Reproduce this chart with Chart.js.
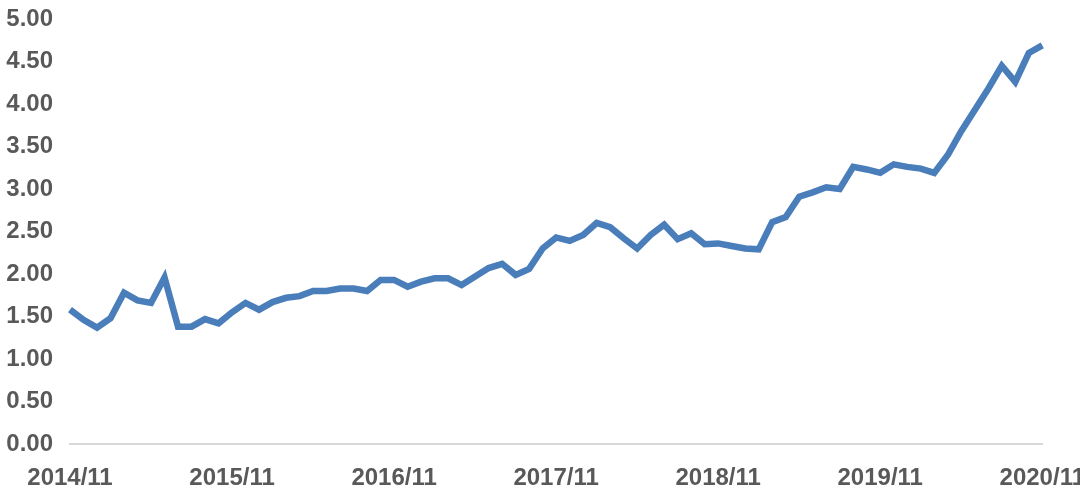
<!DOCTYPE html>
<html>
<head>
<meta charset="utf-8">
<script src="https://cdn.jsdelivr.net/npm/chart.js@4/dist/chart.umd.min.js"></script>
<style>
  html, body { margin: 0; padding: 0; background: #fff; overflow: hidden; }
  #wrap { width: 1105px; height: 496px; }
</style>
</head>
<body>
<div id="wrap"><canvas id="chartOne"></canvas></div>
<script>
// months 2014/11 .. 2020/11
const labels = [];
for (let y = 2014, m = 11; y < 2020 || (y === 2020 && m <= 11); ) {
    labels.push(y + '/' + m);
    m++;
    if (m > 12) { m = 1; y++; }
}

const values = [
    1.58, 1.46, 1.37, 1.48, 1.78, 1.69, 1.66, 1.96, 1.38, 1.38, 1.47, 1.42,
    1.55, 1.66, 1.58, 1.67, 1.72, 1.74, 1.80, 1.80, 1.83, 1.83, 1.80, 1.93,
    1.93, 1.85, 1.91, 1.95, 1.95, 1.87, 1.97, 2.07, 2.12, 1.99, 2.06, 2.30,
    2.43, 2.39, 2.46, 2.60, 2.55, 2.42, 2.30, 2.46, 2.58, 2.41, 2.48, 2.35,
    2.36, 2.33, 2.30, 2.29, 2.61, 2.67, 2.91, 2.96, 3.02, 3.00, 3.26, 3.23,
    3.19, 3.29, 3.26, 3.24, 3.19, 3.40, 3.68, 3.93, 4.18, 4.45, 4.26, 4.60,
    4.69
];

const yTicks = [0, 0.5, 1, 1.5, 2, 2.5, 3, 3.5, 4, 4.5, 5];

const tickFont = { family: 'Liberation Sans', size: 24, weight: 'bold' };

const ctxOne = document.getElementById('chartOne').getContext('2d');
const chartOne = new Chart(ctxOne, {
    type: 'line',
    data: {
        labels: labels,
        datasets: [{
            data: values,
            borderColor: '#4a7ebb',
            borderWidth: 6.5,
            pointRadius: 0,
            tension: 0,
            fill: false
        }]
    },
    options: {
        responsive: true,
        maintainAspectRatio: false,
        animation: false,
        layout: { padding: { left: 0, top: 19, bottom: 0, right: 0 } },
        plugins: { legend: { display: false }, tooltip: { enabled: false } },
        scales: {
            x: {
                offset: false,
                grid: { display: false, drawTicks: false },
                border: { display: true, color: '#d9d9d9', width: 2 },
                afterFit: function (axis) { axis.height = 52; },
                ticks: {
                    autoSkip: false,
                    maxRotation: 0,
                    padding: 20,
                    color: '#595959',
                    font: tickFont,
                    callback: function (val, i) {
                        return i % 12 === 0 ? labels[i] : '';
                    }
                }
            },
            y: {
                min: 0,
                max: 5,
                grid: { display: false, drawTicks: false },
                border: { display: false },
                afterFit: function (axis) {
                    axis.width = 70;
                    axis.paddingTop = 0;
                    axis.paddingBottom = 0;
                },
                afterBuildTicks: function (axis) {
                    axis.ticks = yTicks.map(v => ({ value: v }));
                },
                ticks: {
                    padding: 17,
                    color: '#595959',
                    font: tickFont,
                    callback: function (v) { return v.toFixed(2); }
                }
            }
        }
    }
});
</script>
</body>
</html>
